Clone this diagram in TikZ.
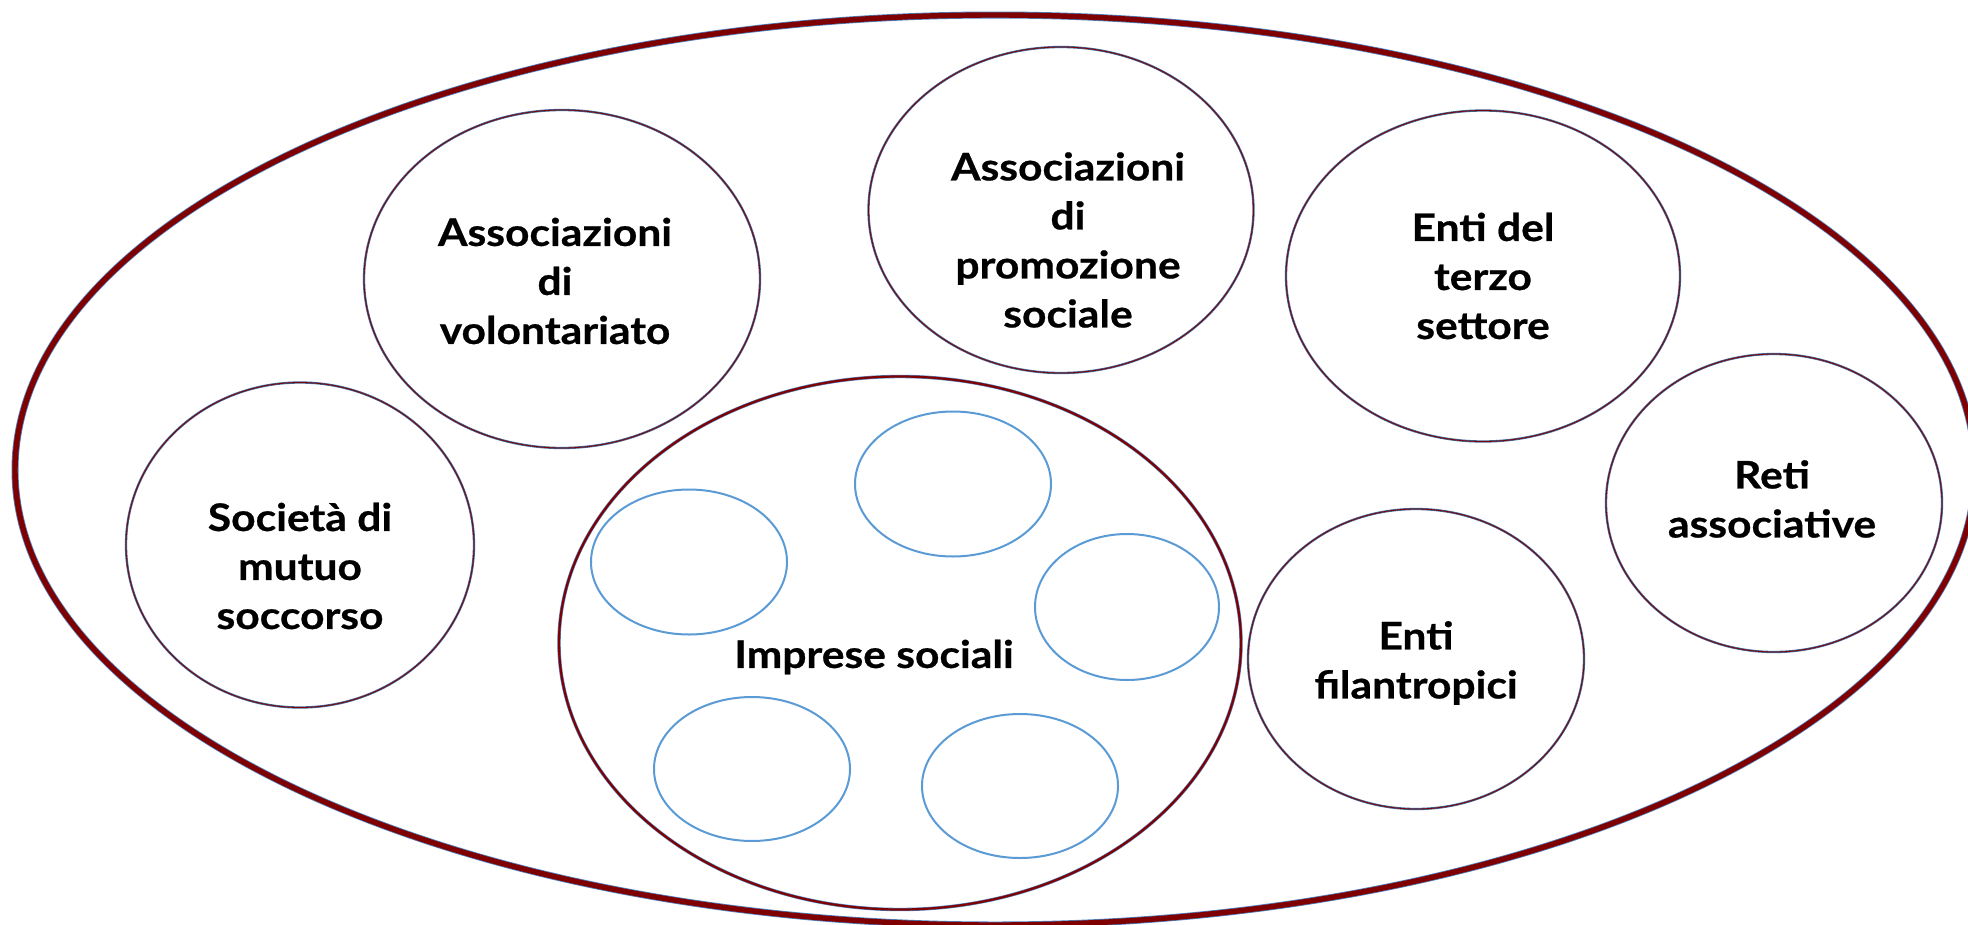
\documentclass[tikz,border=0pt]{standalone}
\usepackage{fontspec}
\newfontfamily\lbl{Lato}[FakeStretch=1.12, FakeBold=0.6]
\usetikzlibrary{shapes.geometric}
\definecolor{dred}{HTML}{7F0000}
\definecolor{fringe}{HTML}{4F81BD}
\definecolor{lblue}{HTML}{5B9BD5}
\begin{document}
\begin{tikzpicture}[x=1pt,y=-1pt,
  ring/.style={ellipse, inner sep=0pt, outer sep=0pt},
  outerring/.style={ring, draw=fringe, line width=0.8pt, double=dred, double distance=5.4pt},
  midring/.style={ring, draw=fringe, line width=0.6pt, double=dred, double distance=2.2pt},
  thinring/.style={ring, draw=fringe!80!black, line width=0.75pt, double=dred, double distance=0.8pt},
  smallring/.style={ring, draw=lblue, line width=2pt},
  label/.style={font=\lbl\bfseries\fontsize{38}{49}\selectfont, align=center, inner sep=0pt, text=black}]
\useasboundingbox (0,0) rectangle (1968,924);
\fill[white] (0,0) rectangle (1968,924);
% outer container
\node[outerring, minimum width=1960pt, minimum height=910pt] (outer) at (995,470) {};
% category ellipses
\node[thinring, minimum width=396pt, minimum height=338pt] (vol) at (562,279) {};
\node[thinring, minimum width=385pt, minimum height=326pt] (prom) at (1061,210) {};
\node[thinring, minimum width=394pt, minimum height=331pt] (terzo) at (1483,276) {};
\node[thinring, minimum width=348pt, minimum height=325pt] (mutuo) at (300,545) {};
\node[midring, minimum width=682pt, minimum height=533pt] (impr) at (900,643) {};
\node[thinring, minimum width=336pt, minimum height=300pt] (filan) at (1416,659) {};
\node[thinring, minimum width=336pt, minimum height=298pt] (reti) at (1774,503) {};
% small ellipses inside Imprese sociali
\node[smallring, minimum width=196pt, minimum height=145pt] (s1) at (689,562) {};
\node[smallring, minimum width=196pt, minimum height=145pt] (s2) at (953,484) {};
\node[smallring, minimum width=184pt, minimum height=146pt] (s3) at (1127,607) {};
\node[smallring, minimum width=196pt, minimum height=144pt] (s4) at (752,769) {};
\node[smallring, minimum width=196pt, minimum height=144pt] (s5) at (1020,786) {};
% labels
\node[label] (tvol) at (555,281) {Associazioni\\di\\volontariato};
\node[label] (tprom) at (1068,240) {Associazioni\\di\\promozione\\sociale};
\node[label] (tterzo) at (1483,276) {Enti del\\terzo\\settore};
\node[label] (tmutuo) at (300,566) {Società di\\mutuo\\soccorso};
\node[label] (timpr) at (874,657) {Imprese sociali};
\node[label] (tfilan) at (1416,663) {Enti\\filantropici};
\node[label] (treti) at (1772,499) {Reti\\associative};
\end{tikzpicture}
\end{document}
